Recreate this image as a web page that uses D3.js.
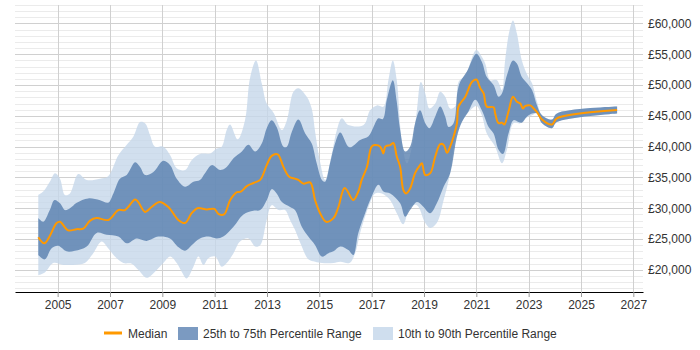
<!DOCTYPE html>
<html>
<head>
<meta charset="utf-8">
<script src="https://cdn.jsdelivr.net/npm/d3@7"></script>
<style>
  body { margin: 0; background: #fff; }
  text { font-family: "Liberation Sans", Arial, sans-serif; font-size: 12px; fill: #333; }
</style>
</head>
<body>
<div id="chart"></div>
<script>
// Data: [year, salary]
var p10 = [[2004.26,19100],[2004.51,19550],[2004.83,21100],[2005.21,20800],[2005.6,20800],[2006.04,21100],[2006.36,22700],[2006.68,24600],[2006.93,23500],[2007.19,22150],[2007.51,21100],[2007.83,21000],[2008.08,20000],[2008.4,18700],[2008.72,19700],[2009.04,21100],[2009.3,22150],[2009.55,21100],[2009.74,19700],[2009.93,18600],[2010.19,20500],[2010.38,22150],[2010.57,20800],[2010.76,21900],[2011.02,22150],[2011.27,20500],[2011.46,21100],[2011.72,22700],[2011.97,24600],[2012.29,25100],[2012.55,23800],[2012.74,24000],[2012.99,28100],[2013.18,30500],[2013.44,29700],[2013.69,29700],[2013.88,28100],[2014.07,26500],[2014.33,23800],[2014.58,21700],[2014.84,21300],[2015.1,21100],[2015.54,21100],[2015.8,21300],[2016.15,21100],[2016.37,22700],[2016.56,26000],[2016.88,30200],[2017.13,32400],[2017.39,32400],[2017.71,31300],[2017.96,29200],[2018.21,27400],[2018.47,30200],[2018.73,30500],[2019.05,27600],[2019.24,26800],[2019.49,27600],[2019.75,31300],[2020.0,35700],[2020.19,41100],[2020.38,43500],[2020.77,45900],[2021.0,46600],[2021.21,45100],[2021.4,42150],[2021.72,40000],[2021.98,37300],[2022.17,39500],[2022.42,43800],[2022.68,43800],[2022.87,44600],[2023.13,45100],[2023.32,45400],[2023.51,43800],[2023.89,43000],[2024.08,44000],[2026.38,45400]];

var p25 = [[2004.26,22400],[2004.51,21700],[2004.77,23500],[2005.02,23900],[2005.34,23000],[2005.66,23100],[2006.11,23800],[2006.49,26000],[2006.87,25700],[2007.32,25400],[2007.64,24300],[2008.02,25100],[2008.4,24700],[2008.85,25400],[2009.29,25100],[2009.61,23700],[2009.87,23100],[2010.12,24000],[2010.44,25100],[2010.76,25400],[2011.08,25100],[2011.33,25400],[2011.72,27000],[2012.1,29000],[2012.48,29600],[2012.74,29700],[2012.99,31300],[2013.18,33100],[2013.37,32400],[2013.57,31000],[2013.88,30200],[2014.07,29700],[2014.33,27000],[2014.58,25400],[2014.84,24000],[2015.1,22150],[2015.35,22700],[2015.54,23000],[2015.8,23800],[2016.11,23200],[2016.3,22400],[2016.49,26000],[2016.75,29200],[2017.0,31900],[2017.26,33800],[2017.45,32700],[2017.71,32400],[2018.09,30800],[2018.28,28600],[2018.47,29700],[2018.73,31000],[2018.92,30500],[2019.24,29200],[2019.49,30800],[2019.75,33500],[2020.0,35700],[2020.26,41600],[2020.45,44000],[2020.7,45700],[2020.96,47600],[2021.21,45900],[2021.47,43200],[2021.66,42150],[2021.85,39500],[2022.02,38800],[2022.23,42150],[2022.42,44300],[2022.61,44000],[2022.74,43900],[2022.94,44900],[2023.13,45400],[2023.32,45400],[2023.51,43800],[2023.89,43000],[2024.08,44000],[2026.38,45400]];

var median = [[2004.26,25300],[2004.49,24300],[2004.7,25500],[2004.96,27600],[2005.09,27800],[2005.4,26400],[2005.72,26600],[2005.98,26700],[2006.24,28000],[2006.49,28400],[2006.94,28100],[2007.32,29700],[2007.57,29700],[2007.96,31400],[2008.08,31000],[2008.34,29400],[2008.59,30200],[2008.89,31000],[2009.23,30200],[2009.61,28100],[2009.87,27600],[2010.12,29200],[2010.34,30000],[2010.7,29800],[2010.99,29900],[2011.14,29100],[2011.36,29000],[2011.59,31300],[2011.85,32600],[2012.0,32700],[2012.23,33600],[2012.48,34100],[2012.74,34600],[2012.99,37000],[2013.18,38500],[2013.41,38750],[2013.63,36700],[2013.85,35100],[2014.07,34800],[2014.2,34600],[2014.39,34000],[2014.65,34200],[2014.84,31300],[2015.03,29200],[2015.26,27800],[2015.54,28400],[2015.73,30200],[2015.97,33300],[2016.3,31340],[2016.49,32700],[2016.62,34600],[2016.82,36700],[2017.0,40000],[2017.13,40260],[2017.33,40000],[2017.45,38900],[2017.52,40000],[2017.71,40260],[2017.83,40600],[2017.96,38400],[2018.09,36700],[2018.21,33000],[2018.32,32400],[2018.47,33200],[2018.66,35700],[2018.85,37000],[2018.92,37300],[2019.05,35400],[2019.24,35700],[2019.43,38400],[2019.62,40400],[2019.75,40300],[2019.88,39000],[2020.0,40000],[2020.13,41600],[2020.26,43800],[2020.32,46500],[2020.58,48100],[2020.83,50500],[2021.0,50900],[2021.15,49500],[2021.28,48650],[2021.4,46500],[2021.66,46400],[2021.72,45400],[2021.85,43800],[2021.98,43900],[2022.07,43600],[2022.23,45700],[2022.4,48100],[2022.55,47300],[2022.68,47000],[2022.78,46200],[2022.87,46600],[2023.06,46700],[2023.19,46200],[2023.32,45600],[2023.51,44400],[2023.89,43600],[2024.08,44600],[2026.38,45950]];

var p75 = [[2004.26,28400],[2004.45,27800],[2004.7,29700],[2004.88,31340],[2005.09,30800],[2005.28,29700],[2005.47,30000],[2005.73,30900],[2006.17,31600],[2006.62,31300],[2006.93,30900],[2007.13,32400],[2007.38,34800],[2007.64,35400],[2007.96,37450],[2008.15,36700],[2008.34,35400],[2008.66,35900],[2009.04,37700],[2009.3,37000],[2009.55,34800],[2009.87,33500],[2010.19,34300],[2010.44,34600],[2010.63,35700],[2010.89,37000],[2011.21,36200],[2011.46,36700],[2011.72,38100],[2012.04,39200],[2012.29,40300],[2012.55,39200],[2012.8,40500],[2012.99,43000],[2013.18,44300],[2013.37,43200],[2013.63,40000],[2013.76,40000],[2013.95,42400],[2014.2,44400],[2014.46,42150],[2014.71,40500],[2014.9,37300],[2015.1,34600],[2015.22,34300],[2015.41,37300],[2015.6,40500],[2015.8,42300],[2016.15,39900],[2016.56,41100],[2016.88,41700],[2017.07,43200],[2017.26,44600],[2017.43,44500],[2017.58,47600],[2017.81,50800],[2017.96,47300],[2018.09,42700],[2018.28,39200],[2018.47,40000],[2018.66,43800],[2018.85,45900],[2019.05,43800],[2019.21,43000],[2019.43,44900],[2019.62,46500],[2019.81,44900],[2019.94,43200],[2020.13,43800],[2020.28,48900],[2020.38,50500],[2020.64,52200],[2021.0,55100],[2021.21,53800],[2021.4,51300],[2021.66,50000],[2021.85,48100],[2021.98,48650],[2022.17,51600],[2022.4,54000],[2022.55,53500],[2022.74,51300],[2022.94,50300],[2023.13,49200],[2023.32,46700],[2023.51,45100],[2023.89,44400],[2024.08,45400],[2026.38,46500]];

var p90 = [[2004.26,32150],[2004.45,32700],[2004.7,34300],[2004.9,35700],[2005.09,34800],[2005.28,32150],[2005.47,32400],[2005.79,35550],[2006.11,34600],[2006.62,34800],[2006.93,35200],[2007.32,38600],[2007.64,40300],[2007.89,41600],[2008.15,44000],[2008.34,43800],[2008.53,41900],[2008.72,40000],[2009.04,40000],[2009.3,38600],[2009.55,36500],[2009.87,36200],[2010.12,37800],[2010.44,38800],[2010.83,38900],[2011.08,39700],[2011.27,40000],[2011.46,42700],[2011.59,43600],[2011.88,41200],[2012.16,44300],[2012.35,51100],[2012.58,54000],[2012.8,50300],[2012.99,47000],[2013.25,45500],[2013.57,42700],[2013.76,44300],[2014.01,48900],[2014.2,49500],[2014.52,48100],[2014.71,46200],[2014.84,42400],[2015.03,37500],[2015.22,34600],[2015.48,38900],[2015.67,42700],[2015.86,44600],[2016.11,43500],[2016.69,43500],[2016.94,45900],[2017.2,46700],[2017.45,46500],[2017.64,50800],[2017.81,54000],[2017.96,50800],[2018.15,41100],[2018.35,37300],[2018.54,40000],[2018.73,45900],[2018.88,50500],[2019.05,48650],[2019.21,46200],[2019.43,47000],[2019.62,48900],[2019.81,48100],[2020.0,46200],[2020.19,46500],[2020.32,50500],[2020.58,51600],[2021.0,55700],[2021.21,54600],[2021.34,53500],[2021.53,50800],[2021.79,50800],[2021.98,49200],[2022.1,54000],[2022.27,58900],[2022.4,60500],[2022.55,58400],[2022.74,54000],[2022.99,51300],[2023.13,50300],[2023.32,47300],[2023.51,45100],[2023.89,44400],[2024.08,45400],[2026.38,46500]];

var yearTicks = [2005, 2007, 2009, 2011, 2013, 2015, 2017, 2019, 2021, 2023, 2025, 2027];
var salaryTicks = [20000, 25000, 30000, 35000, 40000, 45000, 50000, 55000, 60000];
var legendLabels = ["Median", "25th to 75th Percentile Range", "10th to 90th Percentile Range"];

// Set SVG size and plot area
var svgWidth = 700;
var svgHeight = 350;
var plot = { left: 15, right: 643, top: 5, bottom: 292 };

var svg = d3.select("#chart")
  .append("svg")
  .attr("width", svgWidth)
  .attr("height", svgHeight);

// Scales
var x = d3.scaleLinear()
  .domain([2003.37, 2027.37])
  .range([plot.left, plot.right]);

var y = d3.scaleLinear()
  .domain([16400, 63000])
  .range([plot.bottom, plot.top]);

// Gridlines: light every 1000, darker every 5000
var minorVals = d3.range(17000, 63001, 1000);
svg.append("g").selectAll("line")
  .data(minorVals)
  .enter().append("line")
  .attr("x1", plot.left)
  .attr("x2", plot.right)
  .attr("y1", d => Math.round(y(d)) + 0.5)
  .attr("y2", d => Math.round(y(d)) + 0.5)
  .attr("stroke", d => d % 5000 === 0 ? "#d0d0d0" : "#ebebeb")
  .attr("stroke-width", 1);

svg.append("g").selectAll("line")
  .data(yearTicks)
  .enter().append("line")
  .attr("x1", d => Math.round(x(d)) + 0.5)
  .attr("x2", d => Math.round(x(d)) + 0.5)
  .attr("y1", plot.top)
  .attr("y2", plot.bottom)
  .attr("stroke", "#d0d0d0");

// Bands
var line = d3.line()
  .x(d => x(d[0]))
  .y(d => y(d[1]))
  .curve(d3.curveCatmullRom.alpha(0.5));

function band(upper, lower) {
  return line(upper) + line(lower.slice().reverse()).replace("M", "L") + "Z";
}

svg.append("path")
  .attr("d", band(p90, p10))
  .attr("fill", "#c5d7ea")
  .attr("fill-opacity", 0.8);

svg.append("path")
  .attr("d", band(p75, p25))
  .attr("fill", "#4f78aa")
  .attr("fill-opacity", 0.75);

// Median line
svg.append("path")
  .datum(median)
  .attr("d", line)
  .attr("fill", "none")
  .attr("stroke", "#ff9900")
  .attr("stroke-width", 2);

// X axis
var xAxis = d3.axisBottom(x)
  .tickValues(yearTicks)
  .tickFormat(d3.format("d"))
  .tickSize(5)
  .tickSizeOuter(0);

var gx = svg.append("g")
  .attr("transform", `translate(0, ${plot.bottom})`)
  .call(xAxis);
gx.select(".domain").attr("stroke", "#000");
gx.selectAll(".tick line").attr("stroke", "#999");
gx.selectAll("text").attr("font-size", null).attr("font-family", null).attr("fill", "#333");

// Y axis on the right
var yAxis = d3.axisRight(y)
  .tickValues(salaryTicks)
  .tickFormat(d => "£" + d3.format(",")(d))
  .tickSize(0)
  .tickPadding(5);

var gy = svg.append("g")
  .attr("transform", `translate(${plot.right}, 0)`)
  .call(yAxis);
gy.select(".domain").remove();
gy.selectAll("text").attr("font-size", null).attr("font-family", null).attr("fill", "#333");

// Legend
var legend = svg.append("g").attr("transform", "translate(0, 333)");

legend.append("line")
  .attr("x1", 104).attr("x2", 122)
  .attr("y1", 0).attr("y2", 0)
  .attr("stroke", "#ff9900")
  .attr("stroke-width", 3);
legend.append("text").attr("x", 128).attr("y", 4.5).text(legendLabels[0]);

legend.append("rect")
  .attr("x", 178).attr("y", -6)
  .attr("width", 20).attr("height", 13)
  .attr("fill", "#7b9ac1");
legend.append("text").attr("x", 203).attr("y", 4.5).text(legendLabels[1]);

legend.append("rect")
  .attr("x", 373).attr("y", -6)
  .attr("width", 20).attr("height", 13)
  .attr("fill", "#cfdeee");
legend.append("text").attr("x", 398).attr("y", 4.5).text(legendLabels[2]);
</script>
</body>
</html>
